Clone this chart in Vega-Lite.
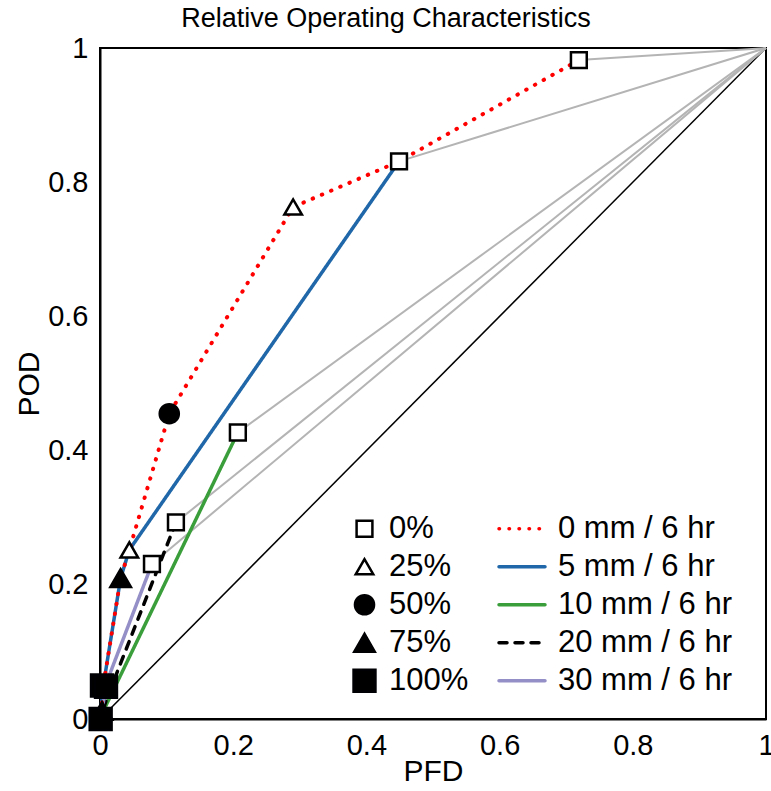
{
  "$schema": "https://vega.github.io/schema/vega-lite/v6.json",
  "width": 666,
  "height": 671,
  "autosize": {"type": "none"},
  "padding": {"left": 100, "top": 48, "right": 5, "bottom": 72},
  "background": "white",
  "title": {
    "text": "Relative Operating Characteristics",
    "anchor": "middle",
    "frame": "group",
    "dx": -47,
    "offset": 1,
    "font": "Liberation Sans",
    "fontSize": 27,
    "fontWeight": "normal",
    "color": "black"
  },
  "config": {
    "view": {"stroke": "black", "strokeWidth": 2},
    "axis": {
      "grid": false,
      "ticks": false,
      "domainColor": "black",
      "domainWidth": 2,
      "labelFont": "Liberation Sans",
      "labelFontSize": 29,
      "labelColor": "black",
      "labelPadding": 12,
      "labelFlush": false,
      "labelOverlap": false,
      "titleFont": "Liberation Sans",
      "titleFontSize": 30,
      "titleFontWeight": "normal",
      "titleColor": "black"
    },
    "legend": {
      "labelFont": "Liberation Sans",
      "labelFontSize": 31,
      "labelColor": "black",
      "labelLimit": 400,
      "padding": 0,
      "orient": "none"
    }
  },
  "datasets": {
    "diag": [{"x": 0, "y": 0}, {"x": 1, "y": 1}],
    "tickvals": [{"v": 0.2}, {"v": 0.4}, {"v": 0.6}, {"v": 0.8}],
    "gray": [
      {"g": "a", "i": 1, "x": 0.719, "y": 0.982}, {"g": "a", "i": 2, "x": 1, "y": 1},
      {"g": "b", "i": 1, "x": 0.449, "y": 0.831}, {"g": "b", "i": 2, "x": 1, "y": 1},
      {"g": "c", "i": 1, "x": 0.207, "y": 0.427}, {"g": "c", "i": 2, "x": 1, "y": 1},
      {"g": "d", "i": 1, "x": 0.114, "y": 0.293}, {"g": "d", "i": 2, "x": 1, "y": 1},
      {"g": "e", "i": 1, "x": 0.078, "y": 0.231}, {"g": "e", "i": 2, "x": 1, "y": 1}
    ],
    "lines": [
      {"series": "5 mm / 6 hr", "i": 1, "x": 0.449, "y": 0.831},
      {"series": "5 mm / 6 hr", "i": 2, "x": 0.044, "y": 0.252},
      {"series": "5 mm / 6 hr", "i": 3, "x": 0.031, "y": 0.21},
      {"series": "5 mm / 6 hr", "i": 4, "x": 0.005, "y": 0.05},
      {"series": "5 mm / 6 hr", "i": 5, "x": 0, "y": 0},
      {"series": "10 mm / 6 hr", "i": 1, "x": 0.207, "y": 0.427},
      {"series": "10 mm / 6 hr", "i": 2, "x": 0.004, "y": 0.01},
      {"series": "10 mm / 6 hr", "i": 3, "x": 0, "y": 0},
      {"series": "20 mm / 6 hr", "i": 1, "x": 0.114, "y": 0.293},
      {"series": "20 mm / 6 hr", "i": 2, "x": 0.01, "y": 0.03},
      {"series": "20 mm / 6 hr", "i": 3, "x": 0, "y": 0},
      {"series": "30 mm / 6 hr", "i": 1, "x": 0.078, "y": 0.231},
      {"series": "30 mm / 6 hr", "i": 2, "x": 0.012, "y": 0.06},
      {"series": "30 mm / 6 hr", "i": 3, "x": 0, "y": 0}
    ],
    "red": [
      {"series": "0 mm / 6 hr", "i": 1, "x": 0.719, "y": 0.982},
      {"series": "0 mm / 6 hr", "i": 2, "x": 0.449, "y": 0.831},
      {"series": "0 mm / 6 hr", "i": 3, "x": 0.29, "y": 0.763},
      {"series": "0 mm / 6 hr", "i": 4, "x": 0.104, "y": 0.455},
      {"series": "0 mm / 6 hr", "i": 5, "x": 0.044, "y": 0.252},
      {"series": "0 mm / 6 hr", "i": 6, "x": 0.031, "y": 0.21},
      {"series": "0 mm / 6 hr", "i": 7, "x": 0.005, "y": 0.05},
      {"series": "0 mm / 6 hr", "i": 8, "x": 0.002, "y": 0.012},
      {"series": "0 mm / 6 hr", "i": 9, "x": 0, "y": 0}
    ],
    "pts": [
      {"prob": "0%", "x": 0.719, "y": 0.982},
      {"prob": "0%", "x": 0.449, "y": 0.831},
      {"prob": "0%", "x": 0.207, "y": 0.427},
      {"prob": "0%", "x": 0.114, "y": 0.293},
      {"prob": "0%", "x": 0.078, "y": 0.231},
      {"prob": "25%", "x": 0.29, "y": 0.763},
      {"prob": "25%", "x": 0.044, "y": 0.252},
      {"prob": "50%", "x": 0.104, "y": 0.455},
      {"prob": "75%", "x": 0.031, "y": 0.21},
      {"prob": "75%", "x": 0.003, "y": 0.012},
      {"prob": "100%", "x": 0.003, "y": 0.05},
      {"prob": "100%", "x": 0.009, "y": 0.048},
      {"prob": "100%", "x": 0.001, "y": 0.0}
    ]
  },
  "encoding": {
    "x": {
      "field": "x", "type": "quantitative",
      "scale": {"domain": [0, 1], "nice": false, "zero": false},
      "axis": {
        "title": "PFD",
        "values": [0, 0.2, 0.4, 0.6, 0.8, 1],
        "labelExpr": "datum.value == 0 ? '0' : datum.value == 1 ? '1' : format(datum.value, '.1f')",
        "titlePadding": -4
      }
    },
    "y": {
      "field": "y", "type": "quantitative",
      "scale": {"domain": [0, 1], "nice": false, "zero": false},
      "axis": {
        "title": "POD",
        "values": [0, 0.2, 0.4, 0.6, 0.8, 1],
        "labelExpr": "datum.value == 0 ? '0' : datum.value == 1 ? '1' : format(datum.value, '.1f')",
        "titlePadding": 3
      }
    }
  },
  "layer": [
    {
      "data": {"name": "diag"},
      "mark": {"type": "line", "color": "black", "strokeWidth": 1.5},
      "encoding": {}
    },
    {
      "data": {"name": "gray"},
      "mark": {"type": "line", "color": "#b4b4b4", "strokeWidth": 2},
      "encoding": {"detail": {"field": "g"}, "order": {"field": "i"}}
    },
    {
      "data": {"name": "lines"},
      "mark": {"type": "line", "strokeWidth": 3.5, "strokeCap": "round"},
      "encoding": {
        "order": {"field": "i"},
        "color": {
          "field": "series", "type": "nominal",
          "scale": {
            "domain": ["0 mm / 6 hr", "5 mm / 6 hr", "10 mm / 6 hr", "20 mm / 6 hr", "30 mm / 6 hr"],
            "range": ["#ff0000", "#1f67a8", "#3a9e3a", "#000000", "#948fc6"]
          },
          "legend": {
            "title": null,
            "legendX": 397,
            "legendY": 462,
            "symbolType": "stroke",
            "symbolSize": 2116,
            "symbolStrokeWidth": 3.5,
            "labelOffset": 11,
            "rowPadding": 0,
            "clipHeight": 37.5,
            "encode": {"symbols": {"update": {"strokeCap": {"value": "round"}}}}
          }
        },
        "strokeDash": {
          "field": "series", "type": "nominal",
          "scale": {
            "domain": ["0 mm / 6 hr", "5 mm / 6 hr", "10 mm / 6 hr", "20 mm / 6 hr", "30 mm / 6 hr"],
            "range": [[0.5, 9.5], [1, 0], [1, 0], [8, 8], [1, 0]]
          },
          "legend": {
            "title": null,
            "legendX": 397,
            "legendY": 462,
            "symbolType": "stroke",
            "symbolSize": 2116,
            "symbolStrokeWidth": 3.5,
            "labelOffset": 11,
            "rowPadding": 0,
            "clipHeight": 37.5,
            "encode": {"symbols": {"update": {"strokeCap": {"value": "round"}}}}
          }
        }
      }
    },
    {
      "data": {"name": "red"},
      "mark": {"type": "line", "strokeWidth": 4, "strokeCap": "round"},
      "encoding": {
        "order": {"field": "i"},
        "color": {"field": "series", "type": "nominal"},
        "strokeDash": {"field": "series", "type": "nominal"}
      }
    },
    {
      "data": {"name": "tickvals"},
      "mark": {"type": "rule", "color": "#000000", "strokeWidth": 2.5, "opacity": 1},
      "encoding": {
        "x": {"field": "v", "type": "quantitative"},
        "y": {"datum": 0},
        "y2": {"datum": 0.022}
      }
    },
    {
      "data": {"name": "tickvals"},
      "mark": {"type": "rule", "color": "#000000", "strokeWidth": 2.5, "opacity": 1},
      "encoding": {
        "y": {"field": "v", "type": "quantitative"},
        "x": {"datum": 0},
        "x2": {"datum": 0.022}
      }
    },
    {
      "data": {"name": "pts"},
      "mark": {"type": "point", "opacity": 1, "filled": true},
      "encoding": {
        "shape": {
          "field": "prob", "type": "nominal",
          "scale": {
            "domain": ["0%", "25%", "50%", "75%", "100%"],
            "range": ["square", "triangle-up", "circle", "triangle-up", "square"]
          },
          "legend": {
            "title": null,
            "legendX": 249,
            "legendY": 462,
            "rowPadding": 0,
            "clipHeight": 37.5,
            "labelOffset": 9
          }
        },
        "fill": {
          "field": "prob", "type": "nominal",
          "scale": {
            "domain": ["0%", "25%", "50%", "75%", "100%"],
            "range": ["white", "white", "black", "black", "black"]
          },
          "legend": {
            "title": null,
            "legendX": 249,
            "legendY": 462,
            "rowPadding": 0,
            "clipHeight": 37.5,
            "labelOffset": 9
          }
        },
        "stroke": {
          "field": "prob", "type": "nominal",
          "scale": {
            "domain": ["0%", "25%", "50%", "75%", "100%"],
            "range": ["black", "#000001", "#000002", "#000003", "#000004"]
          },
          "legend": {
            "title": null,
            "legendX": 249,
            "legendY": 462,
            "rowPadding": 0,
            "clipHeight": 37.5,
            "labelOffset": 9
          }
        },
        "strokeWidth": {
          "field": "prob", "type": "nominal",
          "scale": {
            "domain": ["0%", "25%", "50%", "75%", "100%"],
            "range": [2.5, 2.5, 1, 1, 1]
          },
          "legend": {
            "title": null,
            "legendX": 249,
            "legendY": 462,
            "rowPadding": 0,
            "clipHeight": 37.5,
            "labelOffset": 9
          }
        },
        "size": {
          "field": "prob", "type": "nominal",
          "scale": {
            "domain": ["0%", "25%", "50%", "75%", "100%"],
            "range": [250, 480, 190, 380, 220]
          },
          "legend": {
            "title": null,
            "legendX": 249,
            "legendY": 462,
            "rowPadding": 0,
            "clipHeight": 37.5,
            "labelOffset": 9
          }
        }
      }
    }
  ]
}
